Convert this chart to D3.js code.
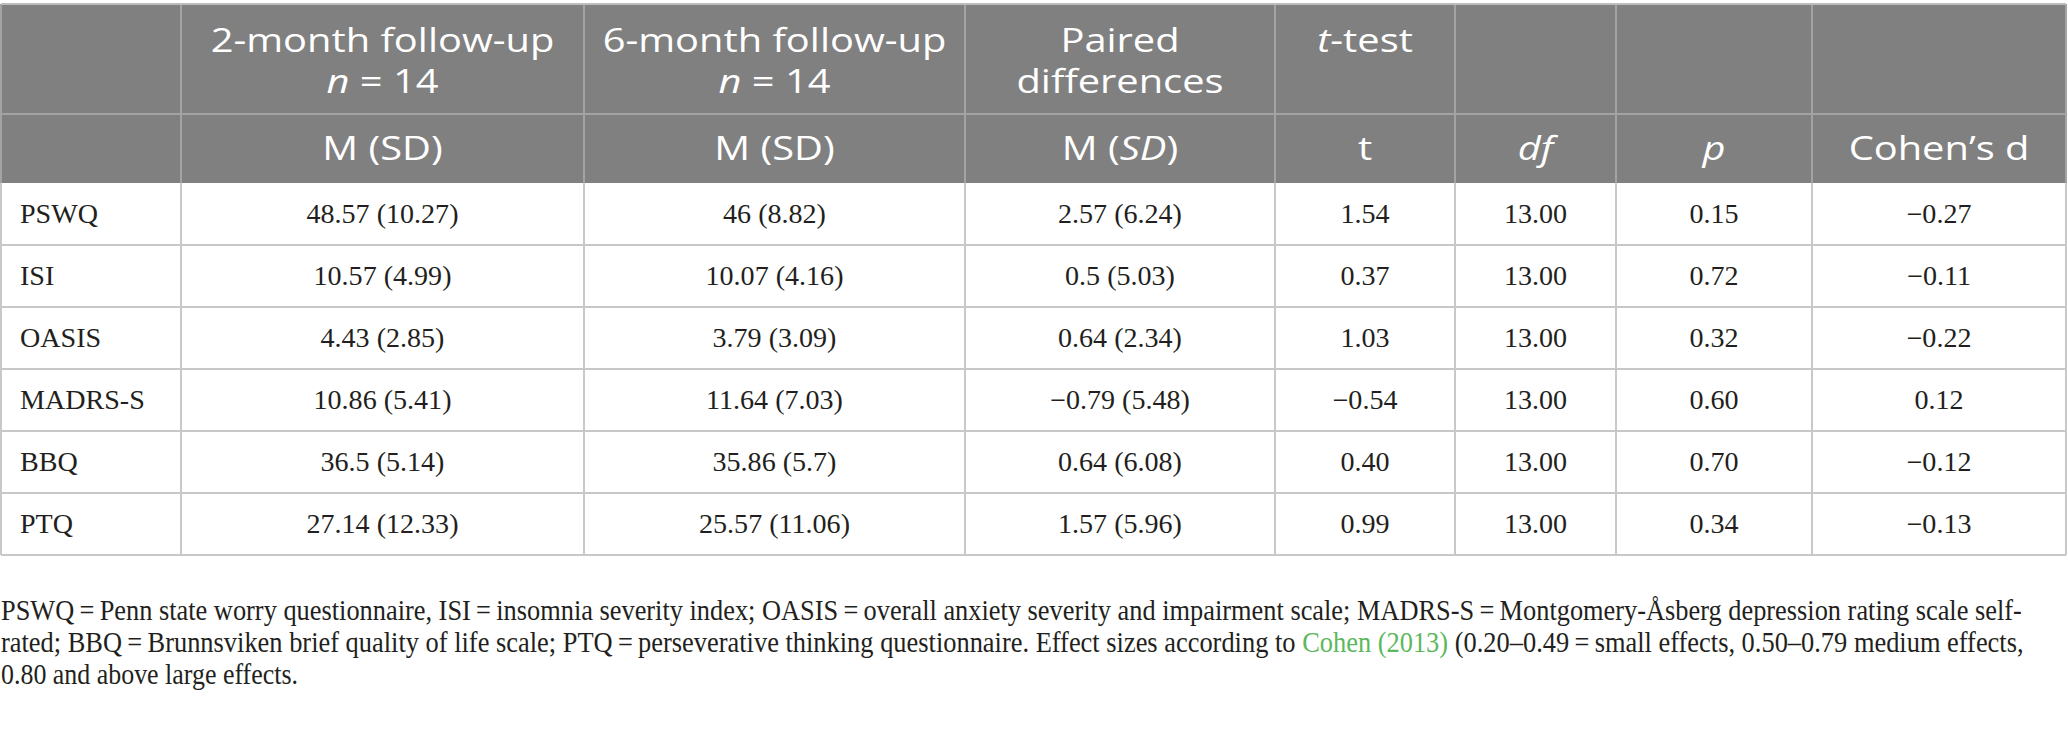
<!DOCTYPE html>
<html>
<head>
<meta charset="utf-8">
<script src="https://cdn.jsdelivr.net/npm/d3@7"></script>
<style>
  body { margin: 0; background: #fff; }
</style>
</head>
<body>
<div id="chart"></div>
<script>
// table values
var measures = ["PSWQ", "ISI", "OASIS", "MADRS-S", "BBQ", "PTQ"];
var mean2 = [48.57, 10.57, 4.43, 10.86, 36.5, 27.14];
var sd2 = [10.27, 4.99, 2.85, 5.41, 5.14, 12.33];
var mean6 = [46, 10.07, 3.79, 11.64, 35.86, 25.57];
var sd6 = [8.82, 4.16, 3.09, 7.03, 5.7, 11.06];
var diffM = [2.57, 0.5, 0.64, -0.79, 0.64, 1.57];
var diffSD = [6.24, 5.03, 2.34, 5.48, 6.08, 5.96];
var tVals = [1.54, 0.37, 1.03, -0.54, 0.40, 0.99];
var dfVals = [13, 13, 13, 13, 13, 13];
var pVals = [0.15, 0.72, 0.32, 0.60, 0.70, 0.34];
var cohenD = [-0.27, -0.11, -0.22, 0.12, -0.12, -0.13];

// header labels, *...* = italic
var head1 = [null, ["2-month follow-up", "*n* = 14"], ["6-month follow-up", "*n* = 14"], ["Paired", "differences"], ["*t*-test"], null, null, null];
var head2 = ["", "M (SD)", "M (SD)", "M (*SD*)", "t", "*df*", "*p*", "Cohen’s d"];

// footnote, [text, isLink]
var notes = [
  [["PSWQ\u2009=\u2009Penn state worry questionnaire, ISI\u2009=\u2009insomnia severity index; OASIS\u2009=\u2009overall anxiety severity and impairment scale; MADRS-S\u2009=\u2009Montgomery-Åsberg depression rating scale self-", false]],
  [["rated; BBQ\u2009=\u2009Brunnsviken brief quality of life scale; PTQ\u2009=\u2009perseverative thinking questionnaire. Effect sizes according to ", false], ["Cohen (2013)", true], [" (0.20–0.49\u2009=\u2009small effects, 0.50–0.79 medium effects,", false]],
  [["0.80 and above large effects.", false]]
];

// layout
var width = 2068, height = 732;
var colEdges = [1, 181, 584, 965, 1275, 1455, 1616, 1812, 2066];
var top_y = 4, head_mid = 114, head_bot = 183, table_bot = 555;
var head_fill = "#808080", line_head = "#a3a3a3", line_body = "#c8c8c8";
var sans = "'Open Sans', 'Noto Sans', sans-serif";
var serif = "'Liberation Serif', 'DejaVu Serif', serif";
var head_sx = 1.245, body_sx = 1.04;
var note_widths = [2022, 2023, 297];
var note_base = [620, 652, 684];

var svg = d3.select("#chart").append("svg")
    .attr("width", width)
    .attr("height", height);

var yScale = d3.scaleBand()
    .domain(measures)
    .range([head_bot, table_bot]);

function fmt(n) { return String(n).replace("-", "\u2212"); }
function fix2(n) { return n.toFixed(2).replace("-", "\u2212"); }

var rows = measures.map(function(m, i) {
  return [m,
    fmt(mean2[i]) + " (" + fmt(sd2[i]) + ")",
    fmt(mean6[i]) + " (" + fmt(sd6[i]) + ")",
    fmt(diffM[i]) + " (" + fmt(diffSD[i]) + ")",
    fix2(tVals[i]), fix2(dfVals[i]), fix2(pVals[i]), fix2(cohenD[i])];
});

// header background
svg.append("rect")
    .attr("x", colEdges[0])
    .attr("y", top_y)
    .attr("width", colEdges[colEdges.length - 1] - colEdges[0])
    .attr("height", head_bot - top_y)
    .attr("fill", head_fill);

// grid
var grid = svg.append("g").attr("shape-rendering", "crispEdges");
grid.selectAll("line.vh")
    .data(colEdges)
  .enter().append("line")
    .attr("x1", function(d) { return d; }).attr("x2", function(d) { return d; })
    .attr("y1", top_y).attr("y2", head_bot)
    .style("stroke", line_head).style("stroke-width", 2);
grid.selectAll("line.vb")
    .data(colEdges)
  .enter().append("line")
    .attr("x1", function(d) { return d; }).attr("x2", function(d) { return d; })
    .attr("y1", head_bot).attr("y2", table_bot)
    .style("stroke", line_body).style("stroke-width", 2);
grid.append("line")
    .attr("x1", colEdges[0]).attr("x2", colEdges[8])
    .attr("y1", top_y).attr("y2", top_y)
    .style("stroke", "#bdbdbd").style("stroke-width", 2);
grid.append("line")
    .attr("x1", colEdges[0]).attr("x2", colEdges[8])
    .attr("y1", head_mid).attr("y2", head_mid)
    .style("stroke", line_head).style("stroke-width", 2);
grid.selectAll("line.h")
    .data(measures)
  .enter().append("line")
    .attr("x1", colEdges[0]).attr("x2", colEdges[8])
    .attr("y1", function(d) { return yScale(d) + yScale.bandwidth(); })
    .attr("y2", function(d) { return yScale(d) + yScale.bandwidth(); })
    .style("stroke", line_body).style("stroke-width", 2);

// text helper: *x* marks italic parts
function addRich(sel, str) {
  str.split("*").forEach(function(part, k) {
    if (!part) return;
    sel.append("tspan").text(part).style("font-style", k % 2 ? "italic" : "normal");
  });
}

function centerOf(c) { return (colEdges[c] + colEdges[c + 1]) / 2; }

// header row 1
head1.forEach(function(lines, c) {
  if (!lines) return;
  lines.forEach(function(ln, j) {
    var t = svg.append("g")
        .attr("transform", "translate(" + centerOf(c) + "," + (52 + j * 41) + ") scale(" + head_sx + ",1)")
      .append("text")
        .attr("text-anchor", "middle")
        .style("font-family", sans).style("font-size", "32px").style("fill", "#fff");
    addRich(t, ln);
  });
});

// header row 2
head2.forEach(function(lab, c) {
  if (!lab) return;
  var t = svg.append("g")
      .attr("transform", "translate(" + centerOf(c) + ",160) scale(" + head_sx + ",1)")
    .append("text")
      .attr("text-anchor", "middle")
      .style("font-family", sans).style("font-size", "32px").style("fill", "#fff");
  addRich(t, lab);
});

// body
var body = svg.append("g");
rows.forEach(function(r, i) {
  var yb = yScale(measures[i]) + yScale.bandwidth() / 2 + 9;
  r.forEach(function(val, c) {
    var x = c === 0 ? colEdges[0] + 19 : centerOf(c);
    body.append("g")
        .attr("transform", "translate(" + x + "," + yb + ") scale(" + body_sx + ",1)")
      .append("text")
        .attr("text-anchor", c === 0 ? "start" : "middle")
        .style("font-family", serif).style("font-size", "27px").style("fill", "#231f20")
        .text(val);
  });
});

// footnote, stretched to the reference line widths
notes.forEach(function(segs, j) {
  var g = svg.append("g");
  var t = g.append("text")
      .style("font-family", serif).style("font-size", "29px").style("fill", "#231f20");
  segs.forEach(function(s) {
    t.append("tspan").text(s[0]).style("fill", s[1] ? "#5cb85c" : "#231f20");
  });
  var w = t.node().getComputedTextLength();
  g.attr("transform", "translate(1," + note_base[j] + ") scale(" + (note_widths[j] / w) + ",1)");
});
</script>
</body>
</html>
